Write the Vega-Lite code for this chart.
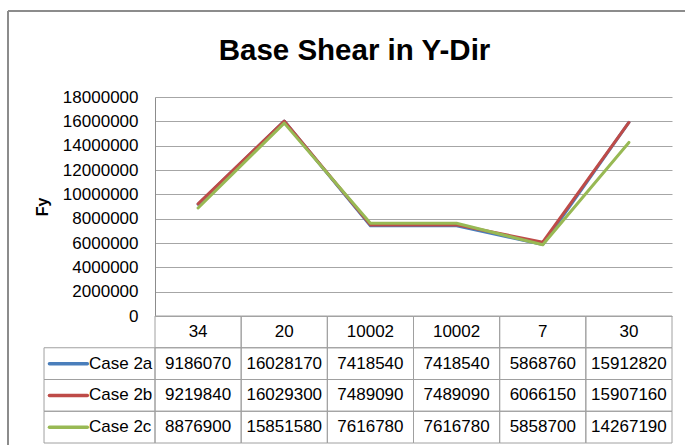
{
  "$schema": "https://vega.github.io/schema/vega-lite/v6.json",
  "padding": {"left": 6, "top": 10, "right": 0, "bottom": 0},
  "background": "white",
  "title": {"text": "Base Shear in Y-Dir", "font": "Liberation Sans", "fontSize": 29.5, "fontWeight": "bold", "color": "#000000", "anchor": "middle", "baseline": "alphabetic", "offset": -79, "dx": 8},
  "bounds": "flush",
  "spacing": 0,
  "config": {"view": {"stroke": null}, "font": "Liberation Sans"},
  "datasets": {
    "pts": [
      {"cat": 0, "label": "34", "series": "Case 2a", "value": 9186070},
      {"cat": 1, "label": "20", "series": "Case 2a", "value": 16028170},
      {"cat": 2, "label": "10002", "series": "Case 2a", "value": 7418540},
      {"cat": 3, "label": "10002", "series": "Case 2a", "value": 7418540},
      {"cat": 4, "label": "7", "series": "Case 2a", "value": 5868760},
      {"cat": 5, "label": "30", "series": "Case 2a", "value": 15912820},
      {"cat": 0, "label": "34", "series": "Case 2b", "value": 9219840},
      {"cat": 1, "label": "20", "series": "Case 2b", "value": 16029300},
      {"cat": 2, "label": "10002", "series": "Case 2b", "value": 7489090},
      {"cat": 3, "label": "10002", "series": "Case 2b", "value": 7489090},
      {"cat": 4, "label": "7", "series": "Case 2b", "value": 6066150},
      {"cat": 5, "label": "30", "series": "Case 2b", "value": 15907160},
      {"cat": 0, "label": "34", "series": "Case 2c", "value": 8876900},
      {"cat": 1, "label": "20", "series": "Case 2c", "value": 15851580},
      {"cat": 2, "label": "10002", "series": "Case 2c", "value": 7616780},
      {"cat": 3, "label": "10002", "series": "Case 2c", "value": 7616780},
      {"cat": 4, "label": "7", "series": "Case 2c", "value": 5858700},
      {"cat": 5, "label": "30", "series": "Case 2c", "value": 14267190}
    ]
  },
  "vconcat": [
    {
      "width": 517,
      "height": 219,
      "data": {"name": "pts"},
      "layer": [
        {
          "mark": {"type": "line", "strokeWidth": 3, "strokeCap": "round", "strokeJoin": "round"},
          "encoding": {
            "x": {"field": "cat", "type": "ordinal", "scale": {"type": "point", "padding": 0.5}, "axis": null},
            "y": {
              "field": "value", "type": "quantitative",
              "scale": {"domain": [0, 18000000]},
              "axis": {
                "values": [0, 2000000, 4000000, 6000000, 8000000, 10000000, 12000000, 14000000, 16000000, 18000000],
                "format": "d", "title": "Fy", "titleFont": "Liberation Sans", "titleFontSize": 16, "titleFontWeight": "bold", "titleColor": "#000000", "titlePadding": 12,
                "labelFont": "Liberation Sans", "labelFontSize": 17, "labelColor": "#000000", "labelPadding": 17,
                "ticks": false, "grid": true, "domainColor": "#8c8c8c", "domainWidth": 1, "gridColor": "#a6a6a6", "gridWidth": 1,
                "minExtent": 93, "maxExtent": 93
              }
            },
            "color": {"field": "series", "type": "nominal", "scale": {"domain": ["Case 2a", "Case 2b", "Case 2c"], "range": ["#4A7EBB", "#BE4B48", "#98B954"]}, "legend": null}
          }
        },
        {
          "transform": [{"filter": "datum.cat === 0 && datum.series === 'Case 2a'"}],
          "mark": {"type": "rule", "stroke": "#8c8c8c", "strokeWidth": 2},
          "encoding": {
            "x": {"datum": -1.706, "type": "quantitative", "scale": {"domain": [0, 6]}, "axis": null},
            "x2": {"datum": 6.151},
            "y": {
              "datum": 25068000, "type": "quantitative", "scale": {"domain": [0, 18000000]},
              "axis": {
                "values": [0, 2000000, 4000000, 6000000, 8000000, 10000000, 12000000, 14000000, 16000000, 18000000],
                "format": "d", "title": "Fy", "titleFont": "Liberation Sans", "titleFontSize": 16, "titleFontWeight": "bold", "titleColor": "#000000", "titlePadding": 12,
                "labelFont": "Liberation Sans", "labelFontSize": 17, "labelColor": "#000000", "labelPadding": 17,
                "ticks": false, "grid": true, "domainColor": "#8c8c8c", "domainWidth": 1, "gridColor": "#a6a6a6", "gridWidth": 1,
                "minExtent": 93, "maxExtent": 93
              }
            }
          }
        },
        {
          "transform": [{"filter": "datum.cat === 0 && datum.series === 'Case 2a'"}],
          "mark": {"type": "rule", "stroke": "#8c8c8c", "strokeWidth": 2},
          "encoding": {
            "x": {"datum": -1.706, "type": "quantitative", "scale": {"domain": [0, 6]}, "axis": null},
            "y": {
              "datum": 25068000, "type": "quantitative", "scale": {"domain": [0, 18000000]},
              "axis": {
                "values": [0, 2000000, 4000000, 6000000, 8000000, 10000000, 12000000, 14000000, 16000000, 18000000],
                "format": "d", "title": "Fy", "titleFont": "Liberation Sans", "titleFontSize": 16, "titleFontWeight": "bold", "titleColor": "#000000", "titlePadding": 12,
                "labelFont": "Liberation Sans", "labelFontSize": 17, "labelColor": "#000000", "labelPadding": 17,
                "ticks": false, "grid": true, "domainColor": "#8c8c8c", "domainWidth": 1, "gridColor": "#a6a6a6", "gridWidth": 1,
                "minExtent": 93, "maxExtent": 93
              }
            },
            "y2": {"datum": -10602000}
          }
        }
      ],
      "resolve": {"scale": {"x": "independent"}}
    },
    {
      "width": 517,
      "height": 127,
      "data": {"name": "pts"},
      "layer": [
        {
          "mark": {"type": "rect", "filled": false, "stroke": "#a0a0a0", "strokeWidth": 1},
          "encoding": {
            "x": {"field": "cat", "type": "ordinal", "scale": {"type": "band", "padding": 0}, "axis": null},
            "y": {"field": "series", "type": "nominal", "scale": {"type": "band", "padding": 0, "domain": ["hdr", "Case 2a", "Case 2b", "Case 2c"]}, "axis": null}
          }
        },
        {
          "transform": [{"filter": "datum.series === 'Case 2a'"}],
          "mark": {"type": "rect", "filled": false, "stroke": "#a0a0a0", "strokeWidth": 1},
          "encoding": {
            "x": {"field": "cat", "type": "ordinal", "scale": {"type": "band", "padding": 0}, "axis": null},
            "y": {"datum": "hdr", "type": "nominal", "scale": {"type": "band", "padding": 0, "domain": ["hdr", "Case 2a", "Case 2b", "Case 2c"]}, "axis": null}
          }
        },
        {
          "mark": {"type": "text", "fontSize": 17, "color": "#000000", "font": "Liberation Sans"},
          "encoding": {
            "x": {"field": "cat", "type": "ordinal", "scale": {"type": "band", "padding": 0}, "axis": null},
            "y": {"field": "series", "type": "nominal", "scale": {"type": "band", "padding": 0, "domain": ["hdr", "Case 2a", "Case 2b", "Case 2c"]}, "axis": null},
            "text": {"field": "value", "type": "quantitative", "format": "d"}
          }
        },
        {
          "transform": [{"filter": "datum.series === 'Case 2a'"}],
          "mark": {"type": "text", "fontSize": 17, "color": "#000000", "font": "Liberation Sans"},
          "encoding": {
            "x": {"field": "cat", "type": "ordinal", "scale": {"type": "band", "padding": 0}, "axis": null},
            "y": {"datum": "hdr", "type": "nominal", "scale": {"type": "band", "padding": 0, "domain": ["hdr", "Case 2a", "Case 2b", "Case 2c"]}, "axis": null},
            "text": {"field": "label", "type": "nominal"}
          }
        },
        {
          "transform": [{"filter": "datum.cat === 0"}],
          "mark": {"type": "rect", "filled": false, "stroke": "#a0a0a0", "strokeWidth": 1},
          "encoding": {
            "x": {"datum": -1.288, "type": "quantitative", "scale": {"domain": [0, 6]}, "axis": null},
            "x2": {"datum": 0},
            "y": {"field": "series", "type": "nominal", "scale": {"type": "band", "padding": 0, "domain": ["hdr", "Case 2a", "Case 2b", "Case 2c"]}, "axis": null}
          }
        },
        {
          "transform": [{"filter": "datum.cat === 0"}],
          "mark": {"type": "rule", "strokeWidth": 3.5, "strokeCap": "round"},
          "encoding": {
            "x": {"datum": -1.225, "type": "quantitative", "scale": {"domain": [0, 6]}, "axis": null},
            "x2": {"datum": -0.785},
            "y": {"field": "series", "type": "nominal", "scale": {"type": "band", "padding": 0, "domain": ["hdr", "Case 2a", "Case 2b", "Case 2c"]}, "axis": null},
            "color": {"field": "series", "type": "nominal", "scale": {"domain": ["Case 2a", "Case 2b", "Case 2c"], "range": ["#4A7EBB", "#BE4B48", "#98B954"]}, "legend": null}
          }
        },
        {
          "transform": [{"filter": "datum.cat === 0"}],
          "mark": {"type": "text", "align": "left", "fontSize": 17, "color": "#000000", "font": "Liberation Sans"},
          "encoding": {
            "x": {"datum": -0.766, "type": "quantitative", "scale": {"domain": [0, 6]}, "axis": null},
            "y": {"field": "series", "type": "nominal", "scale": {"type": "band", "padding": 0, "domain": ["hdr", "Case 2a", "Case 2b", "Case 2c"]}, "axis": null},
            "text": {"field": "series", "type": "nominal"}
          }
        }
      ],
      "resolve": {"scale": {"x": "independent"}}
    }
  ]
}
